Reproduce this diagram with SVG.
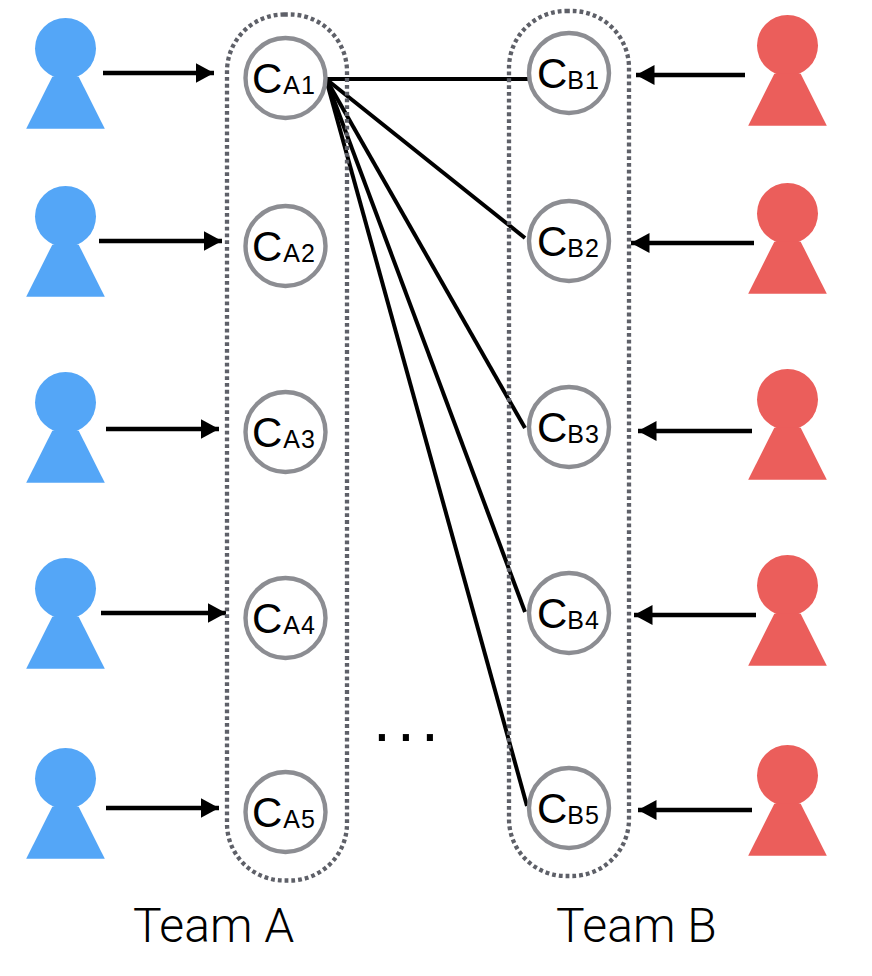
<svg xmlns="http://www.w3.org/2000/svg" width="872" height="976" viewBox="0 0 872 976">
<style>
text{font-family:"Liberation Sans",Arial,sans-serif;fill:#000}
.a{fill:#54a6f7}.b{fill:#eb5e5b}
.pill{fill:none;stroke:#5e6068;stroke-width:4.300;stroke-dasharray:3.800 3}
.ring{fill:#fff;stroke:#8c8d92;stroke-width:4.400}
.edge{stroke:#000;stroke-width:4;fill:none}
.arrow{stroke:#000;stroke-width:4.300;fill:none;marker-end:url(#head)}
.big{font-size:42px}.sub{font-size:25px;letter-spacing:1px}
.team{font-family:Roboto,"Liberation Sans",sans-serif;font-weight:300;font-size:48px}
</style>
<defs>
<marker id="head" markerUnits="userSpaceOnUse" markerWidth="20" markerHeight="22" refX="18.500" refY="11" orient="auto"><path d="M0 1L18.500 11L0 21Z" fill="#000"/></marker>
<g id="pa"><circle cx="0" cy="0" r="30.500"/><path d="M-13.200 28.200L-39.300 80.200H39.300L13.200 28.200Z"/></g>
</defs>
<g id="connectors">
<path class="arrow" d="M103 73H214"/>
<path class="arrow" d="M99 241H222"/>
<path class="arrow" d="M106 429H219"/>
<path class="arrow" d="M101 613H226"/>
<path class="arrow" d="M106 808H219"/>
<path class="arrow" d="M745 75H636"/>
<path class="arrow" d="M754 243H631"/>
<path class="arrow" d="M752 431H638"/>
<path class="arrow" d="M756 615H634"/>
<path class="arrow" d="M752 810H638"/>
<path class="edge" d="M326 79H529"/>
<path class="edge" d="M326 79L525 238"/>
<path class="edge" d="M326 79L525 428"/>
<path class="edge" d="M326 79L525 612"/>
<path class="edge" d="M326 79L527 806"/>
</g>
<g id="team-a"><rect class="pill" x="227" y="14.500" width="120" height="866" rx="57" ry="57"/><text class="team" x="133" y="942">Team A</text></g>
<g id="team-b"><rect class="pill" x="509" y="11" width="120" height="865" rx="57" ry="57"/><text class="team" x="556" y="942">Team B</text></g>
<g id="player-a1"><use class="a" href="#pa" x="65.500" y="48.500"/></g>
<g id="player-a2"><use class="a" href="#pa" x="65.500" y="216.500"/></g>
<g id="player-a3"><use class="a" href="#pa" x="65.500" y="402.500"/></g>
<g id="player-a4"><use class="a" href="#pa" x="65.500" y="588.500"/></g>
<g id="player-a5"><use class="a" href="#pa" x="65.500" y="778.500"/></g>
<g id="player-b1"><use class="b" href="#pa" x="787.500" y="45.500"/></g>
<g id="player-b2"><use class="b" href="#pa" x="787.500" y="213.500"/></g>
<g id="player-b3"><use class="b" href="#pa" x="787.500" y="399.500"/></g>
<g id="player-b4"><use class="b" href="#pa" x="787.500" y="585.500"/></g>
<g id="player-b5"><use class="b" href="#pa" x="787.500" y="775.500"/></g>
<g id="ca1"><circle class="ring" cx="285.500" cy="78" r="40"/><text x="252" y="92.500"><tspan class="big">C</tspan><tspan class="sub" dx="1" dy="1">A1</tspan></text></g>
<g id="ca2"><circle class="ring" cx="285.500" cy="246" r="40"/><text x="252" y="260.500"><tspan class="big">C</tspan><tspan class="sub" dx="1" dy="1">A2</tspan></text></g>
<g id="ca3"><circle class="ring" cx="285.500" cy="432" r="40"/><text x="252" y="446.500"><tspan class="big">C</tspan><tspan class="sub" dx="1" dy="1">A3</tspan></text></g>
<g id="ca4"><circle class="ring" cx="285.500" cy="618" r="40"/><text x="252" y="632.500"><tspan class="big">C</tspan><tspan class="sub" dx="1" dy="1">A4</tspan></text></g>
<g id="ca5"><circle class="ring" cx="285.500" cy="812" r="40"/><text x="252" y="826.500"><tspan class="big">C</tspan><tspan class="sub" dx="1" dy="1">A5</tspan></text></g>
<g id="cb1"><circle class="ring" cx="569" cy="73" r="40"/><text x="537" y="87.500"><tspan class="big">C</tspan><tspan class="sub" dy="1">B1</tspan></text></g>
<g id="cb2"><circle class="ring" cx="569" cy="241" r="40"/><text x="537" y="255.500"><tspan class="big">C</tspan><tspan class="sub" dy="1">B2</tspan></text></g>
<g id="cb3"><circle class="ring" cx="569" cy="427" r="40"/><text x="537" y="441.500"><tspan class="big">C</tspan><tspan class="sub" dy="1">B3</tspan></text></g>
<g id="cb4"><circle class="ring" cx="569" cy="613" r="40"/><text x="537" y="627.500"><tspan class="big">C</tspan><tspan class="sub" dy="1">B4</tspan></text></g>
<g id="cb5"><circle class="ring" cx="569" cy="808" r="40"/><text x="537" y="822.500"><tspan class="big">C</tspan><tspan class="sub" dy="1">B5</tspan></text></g>
<text id="ellipsis" x="373 397 421" y="741" font-size="64">...</text>
</svg>
